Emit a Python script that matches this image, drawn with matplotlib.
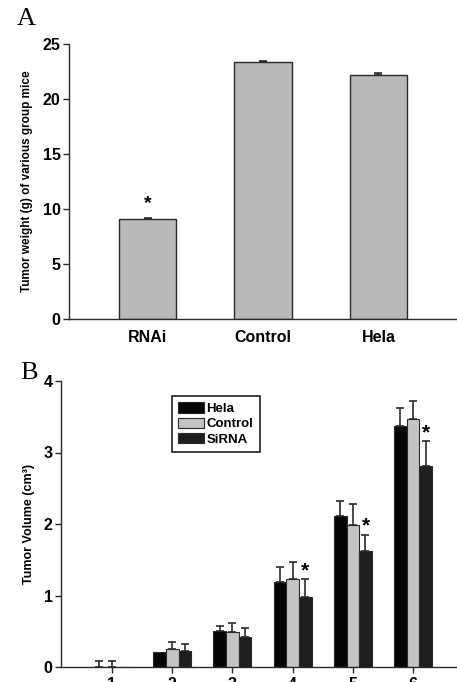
import numpy as np
import matplotlib
matplotlib.use("Agg")
import matplotlib.pyplot as plt

# Panel A data: tumor weight
groups_a = ["RNAi", "Control", "Hela"]
weight = [9.1, 23.33, 22.15]
weight_err = [0.06, 0.08, 0.25]

# Panel B data: tumor volume over time
weeks = [1, 2, 3, 4, 5, 6]
hela = [0, 0.21, 0.50, 1.19, 2.11, 3.37]
hela_err = [0.09, 0, 0.07, 0.21, 0.21, 0.25]
control = [0, 0.25, 0.49, 1.23, 1.99, 3.47]
control_err = [0.08, 0.10, 0.13, 0.24, 0.29, 0.25]
sirna = [0, 0.23, 0.42, 0.98, 1.62, 2.81]
sirna_err = [0, 0.09, 0.12, 0.25, 0.23, 0.35]
star_weeks = [4, 5, 6]

plt.rcParams["font.family"] = ["Liberation Sans", "DejaVu Sans"]
plt.rcParams["font.weight"] = "bold"

fig = plt.figure(figsize=(4.57, 6.82), dpi=100)
edge = "#2a2a2a"

# ---- Panel A ----
ax1 = fig.add_axes([69 / 457, 1 - 319 / 682, 388 / 457, 275 / 682])
xa = np.arange(len(groups_a))
ax1.bar(xa, weight, width=0.5, color="#b9b9b9", edgecolor=edge, linewidth=1.0, zorder=2)
ax1.errorbar(xa, weight, yerr=[np.zeros(3), weight_err], fmt="none",
             ecolor=edge, elinewidth=1.2, capsize=3, capthick=1.2, zorder=3)
ax1.text(xa[0], 10.5, "*", ha="center", va="center", fontsize=14, fontweight="bold")
ax1.set_xlim(-0.68, 2.68)
ax1.set_ylim(0, 25)
ax1.set_yticks([0, 5, 10, 15, 20, 25])
ax1.set_xticks(xa)
ax1.set_xticklabels(groups_a)
ax1.tick_params(axis="x", length=0, pad=8, labelsize=11.5)
ax1.tick_params(axis="y", direction="out", length=4, width=1, pad=2, labelsize=11.5, color=edge)
ax1.set_ylabel("Tumor weight (g) of various group mice", fontsize=8.5, fontweight="bold", labelpad=7)
for s in ["top", "right"]:
    ax1.spines[s].set_visible(False)
for s in ["left", "bottom"]:
    ax1.spines[s].set_color(edge)
    ax1.spines[s].set_linewidth(1.0)
fig.text(17 / 457, 1 - 25 / 682, "A", family="Liberation Serif", fontsize=19,
         fontweight="normal", ha="left", va="baseline")

# ---- Panel B ----
ax2 = fig.add_axes([61 / 457, 1 - 667 / 682, 396 / 457, 286 / 682])
xb = np.array(weeks, dtype=float)
w = 0.21
series = [
    (hela, hela_err, "#050505", "Hela", -w),
    (control, control_err, "#c4c4c4", "Control", 0.0),
    (sirna, sirna_err, "#1e1e1e", "SiRNA", w),
]
for vals, errs, col, lab, off in series:
    ax2.bar(xb + off, vals, width=w, color=col, edgecolor=edge, linewidth=0.8,
            label=lab, zorder=2)
    errs = np.array(errs)
    m = errs > 0
    ax2.errorbar((xb + off)[m], np.array(vals)[m], yerr=[np.zeros(m.sum()), errs[m]],
                 fmt="none", ecolor=edge, elinewidth=1.2, capsize=3, capthick=1.2, zorder=3)
for wk in star_weeks:
    i = weeks.index(wk)
    ax2.text(xb[i] + w, sirna[i] + sirna_err[i] + 0.12, "*", ha="center", va="center",
             fontsize=15, fontweight="bold")
ax2.set_xlim(0.153, 6.73)
ax2.set_ylim(0, 4)
ax2.set_yticks([0, 1, 2, 3, 4])
ax2.set_xticks(xb)
ax2.set_xticklabels([str(v) for v in weeks])
ax2.tick_params(axis="x", direction="out", length=4, width=1, pad=3, labelsize=11.5, color=edge)
ax2.tick_params(axis="y", direction="out", length=4, width=1, pad=2, labelsize=11.5, color=edge)
ax2.set_ylabel("Tumor Volume (cm³)", fontsize=9, fontweight="bold", labelpad=6)
for s in ["top", "right"]:
    ax2.spines[s].set_visible(False)
for s in ["left", "bottom"]:
    ax2.spines[s].set_color(edge)
    ax2.spines[s].set_linewidth(1.0)
leg = ax2.legend(loc="upper left", bbox_to_anchor=(0.28, 0.948), borderaxespad=0,
                 fancybox=False, edgecolor="#222222", fontsize=9.5, handlelength=1.9,
                 handleheight=0.8, handletextpad=0.2, labelspacing=0.2,
                 borderpad=0.5, framealpha=1)
leg.get_frame().set_linewidth(1.2)
fig.text(20 / 457, 1 - 379 / 682, "B", family="Liberation Serif", fontsize=19,
         fontweight="normal", ha="left", va="baseline")

fig.savefig("out.png", dpi=100)
